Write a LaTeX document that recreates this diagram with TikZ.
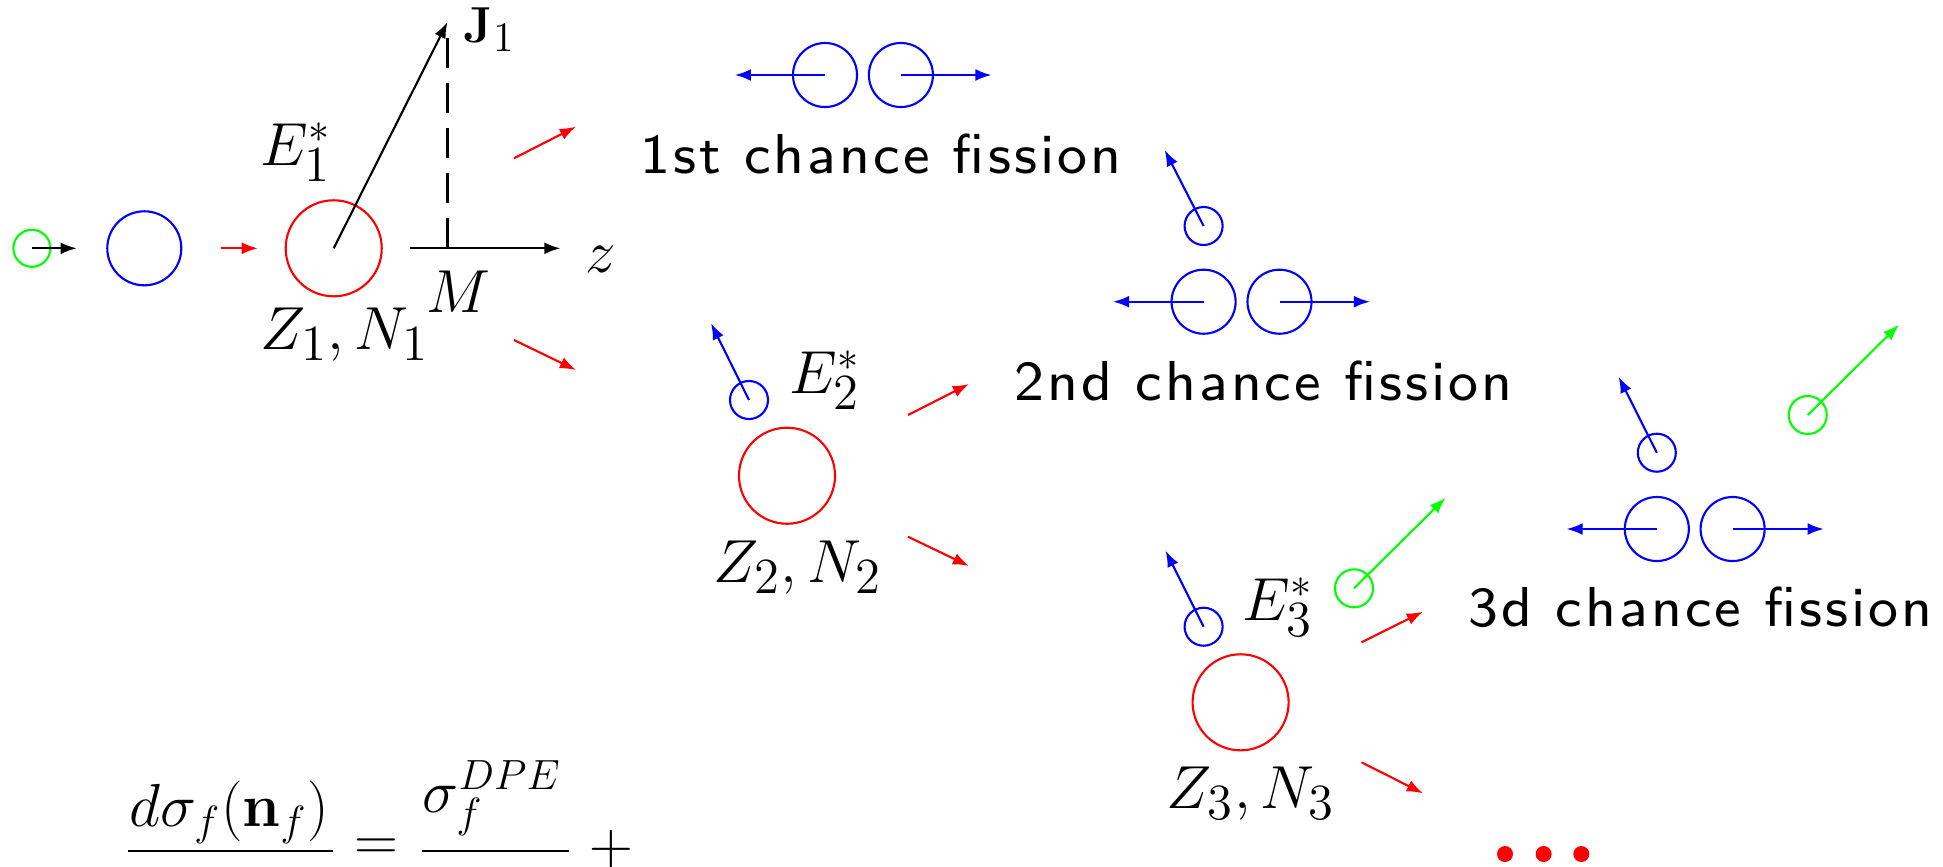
\documentclass[tikz,border=0pt]{standalone}
\usepackage[no-math]{fontspec}
\usetikzlibrary{arrows.meta}
\newfontfamily\fissfont{lmsans8-regular.otf}[LetterSpace=5.5]
\DeclareMathSizes{16.5}{16.5}{15}{11.5}
\DeclareMathSizes{16.4}{16.4}{12}{9}
\DeclareMathSizes{14}{14}{13}{9}
\begin{document}
\begin{tikzpicture}[x=0.01cm,y=-0.01cm,
  ln/.style={line width=0.6pt},
  arr/.style={ln,-{Latex[length=4.6pt,width=3.4pt]}},
  ring/.style={circle,draw,ln,inner sep=0pt,outer sep=0pt},
  dot/.style={circle,fill=red,inner sep=0pt,minimum size=0.16cm},
  lab/.style={anchor=base west,inner sep=0pt,font=\fontsize{16.5}{19}\selectfont},
  eqt/.style={anchor=base west,inner sep=0pt,font=\fontsize{16.4}{19}\selectfont},
  txt/.style={anchor=base west,inner sep=0pt,font=\fontsize{16}{19}\fissfont},
  frac/.style={line width=0.75pt},
]
\useasboundingbox (0,0) rectangle (1943,866);
\clip (0,0) rectangle (1943,866);

% ---- stage 1
\node[ring,draw=green,minimum size=0.37cm] (g0) at (31.9,248.3) {};
\coordinate (g0t) at (76.7,248.3);
\draw[arr] (g0.center) -- (g0t);
\node[ring,draw=blue,minimum size=0.74cm] (b0) at (144.3,248.3) {};
\coordinate (ra) at (220.6,248.3);
\coordinate (rb) at (257.9,248.3);
\draw[arr,red] (ra) -- (rb);
\node[ring,draw=red,minimum size=0.96cm] (n1) at (333.7,248.3) {};
\coordinate (Jt) at (447.5,22);
\draw[arr] (n1.center) -- (Jt);
\coordinate (Dt) at (447.5,38);
\coordinate (Db) at (447.5,248.3);
\draw[ln,dash pattern=on 8.5pt off 4.3pt] (Dt) -- (Db);
\coordinate (za) at (409.6,248.3);
\coordinate (zb) at (560.5,248.3);
\draw[arr] (za) -- (zb);
\node[lab,font=\fontsize{14}{17}\selectfont] (J) at (463,42) {$\mathbf{J}_1$};
\node[lab] (E1) at (260,165) {$E^{\scriptscriptstyle *}_{1}$};
\node[lab] (z) at (585,272) {$z$};
\node[lab] (M) at (426,312) {$M$};
\node[lab] (ZN1) at (260,349) {$Z_1,N_1$};
\coordinate (u1a) at (514,158.3);
\coordinate (u1b) at (576,126.7);
\coordinate (d1a) at (514,340);
\coordinate (d1b) at (576,370);
\draw[arr,red] (u1a) -- (u1b);
\draw[arr,red] (d1a) -- (d1b);

% ---- 1st chance fission
\node[ring,draw=blue,minimum size=0.64cm] (p1l) at (825,75) {};
\node[ring,draw=blue,minimum size=0.64cm] (p1r) at (900.9,75) {};
\coordinate (p1lt) at (734.8,75);
\coordinate (p1rt) at (991.5,75);
\draw[arr,blue] (p1l.center) -- (p1lt);
\draw[arr,blue] (p1r.center) -- (p1rt);
\node[txt] (f1) at (640,173) {1st chance fission};

% ---- stage 2
\node[ring,draw=blue,minimum size=0.38cm] (s2) at (749,400) {};
\coordinate (s2t) at (711,323.3);
\draw[arr,blue] (s2.center) -- (s2t);
\node[lab] (E2) at (789,393) {$E^{\scriptscriptstyle *}_{2}$};
\node[ring,draw=red,minimum size=0.96cm] (n2) at (787,475.7) {};
\node[lab] (ZN2) at (713,582) {$Z_2,N_2$};
\coordinate (u2a) at (908,415);
\coordinate (u2b) at (969,384);
\coordinate (d2a) at (908,536.7);
\coordinate (d2b) at (969,566);
\draw[arr,red] (u2a) -- (u2b);
\draw[arr,red] (d2a) -- (d2b);

% ---- 2nd chance fission
\node[ring,draw=blue,minimum size=0.38cm] (s2f) at (1203.6,226) {};
\coordinate (s2ft) at (1164.7,150);
\draw[arr,blue] (s2f.center) -- (s2ft);
\node[ring,draw=blue,minimum size=0.64cm] (p2l) at (1203.6,301.7) {};
\node[ring,draw=blue,minimum size=0.64cm] (p2r) at (1279.5,301.7) {};
\coordinate (p2lt) at (1113,301.7);
\coordinate (p2rt) at (1370,301.7);
\draw[arr,blue] (p2l.center) -- (p2lt);
\draw[arr,blue] (p2r.center) -- (p2rt);
\node[txt] (f2) at (1014,400) {2nd chance fission};

% ---- stage 3
\node[ring,draw=blue,minimum size=0.38cm] (s3) at (1203.6,626.7) {};
\coordinate (s3t) at (1165.6,550.7);
\draw[arr,blue] (s3.center) -- (s3t);
\node[lab] (E3) at (1242,620) {$E^{\scriptscriptstyle *}_{3}$};
\node[ring,draw=green,minimum size=0.38cm] (g3) at (1354,588.3) {};
\coordinate (g3t) at (1445.6,497.7);
\draw[arr,green] (g3.center) -- (g3t);
\node[ring,draw=red,minimum size=0.96cm] (n3) at (1240.6,702.3) {};
\node[lab] (ZN3) at (1166,808) {$Z_3,N_3$};
\coordinate (u3a) at (1361.5,642.3);
\coordinate (u3b) at (1423,611.7);
\coordinate (d3a) at (1361.5,762.3);
\coordinate (d3b) at (1423,793.3);
\draw[arr,red] (u3a) -- (u3b);
\draw[arr,red] (d3a) -- (d3b);

% ---- 3d chance fission
\node[ring,draw=blue,minimum size=0.38cm] (s3f) at (1656.8,452.7) {};
\coordinate (s3ft) at (1618.6,376.7);
\draw[arr,blue] (s3f.center) -- (s3ft);
\node[ring,draw=green,minimum size=0.38cm] (g3f) at (1807.7,415) {};
\coordinate (g3ft) at (1899,324.6);
\draw[arr,green] (g3f.center) -- (g3ft);
\node[ring,draw=blue,minimum size=0.64cm] (p3l) at (1656.8,529) {};
\node[ring,draw=blue,minimum size=0.64cm] (p3r) at (1732.6,529) {};
\coordinate (p3lt) at (1566.5,529);
\coordinate (p3rt) at (1823.7,529);
\draw[arr,blue] (p3l.center) -- (p3lt);
\draw[arr,blue] (p3r.center) -- (p3rt);
\node[txt] (f3) at (1468,626) {3d chance fission};

% ---- dots
\node[dot] (dA) at (1505,854) {};
\node[dot] (dB) at (1543.6,854) {};
\node[dot] (dC) at (1581.3,854) {};

% ---- formula (cut off at the bottom)
\node[eqt] (num1) at (129,826) {$d\sigma_{f}(\mathbf{n}_{f})$};
\coordinate (r1a) at (127.6,851);
\coordinate (r1b) at (332.7,851);
\draw[frac] (r1a) -- (r1b);
\node[inner sep=0pt,font=\fontsize{17}{20}\selectfont] (eqs) at (376,850) {$=$};
\node[eqt] (num2) at (422,812) {$\sigma_{f}^{DPE}$};
\coordinate (r2a) at (422.4,851);
\coordinate (r2b) at (569,851);
\draw[frac] (r2a) -- (r2b);
\node[inner sep=0pt,font=\fontsize{17}{20}\selectfont] (plus) at (611,849) {$+$};
\end{tikzpicture}
\end{document}
